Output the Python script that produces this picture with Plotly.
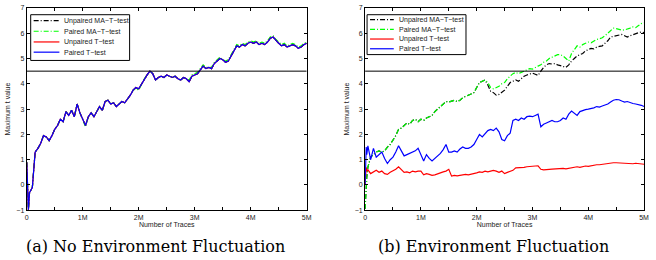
import plotly.graph_objects as go

# ---------------- data ----------------
# Number of traces (millions)
traces_m = [0, 0.01, 0.02, 0.03] + [round(0.05 * i, 2) for i in range(1, 101)]

# (a) No environment fluctuation: all four curves nearly coincide
a_main = [0.9, 0.3, -0.6, -0.98,
          -0.3, -0.1, 1.3, 1.45, 1.65, 1.95, 1.9, 1.75, 1.95, 2.2,
          2.35, 2.6, 2.5, 2.9, 2.75, 2.95, 2.7, 3.2, 2.85, 2.6,
          2.35, 2.7, 2.85, 2.7, 2.9, 3.1, 2.95, 3.3, 3.35, 3.2,
          3.25, 3.1, 3.2, 3.3, 3.25, 3.4, 3.55, 3.75, 3.85, 3.8,
          4.0, 4.2, 4.35, 4.5, 4.4, 4.15, 4.25, 4.3, 4.25, 4.35,
          4.3, 4.25, 4.3, 4.2, 4.15, 4.25, 4.2, 4.08, 4.3, 4.35,
          4.4, 4.55, 4.7, 4.6, 4.65, 4.6, 4.8, 4.9, 5.0, 4.95,
          4.85, 4.9, 5.1, 5.35, 5.5, 5.45, 5.55, 5.5, 5.6, 5.65,
          5.6, 5.65, 5.55, 5.6, 5.55, 5.65, 5.8, 5.85, 5.7, 5.6,
          5.5, 5.55, 5.45, 5.5, 5.55, 5.5, 5.4, 5.45, 5.55, 5.6]
a_paired_ma = [0.9, 0.3, -0.6, -0.98,
               -0.3, -0.1, 1.3, 1.45, 1.65, 1.95, 1.9, 1.75, 1.95, 2.2,
               2.35, 2.6, 2.5, 2.9, 2.75, 2.95, 2.7, 3.2, 2.85, 2.6,
               2.3, 2.7, 2.85, 2.7, 2.9, 3.1, 2.95, 3.3, 3.35, 3.2,
               3.25, 3.1, 3.2, 3.3, 3.25, 3.4, 3.55, 3.75, 3.8, 3.75,
               4.0, 4.2, 4.35, 4.5, 4.4, 4.15, 4.25, 4.3, 4.25, 4.35,
               4.3, 4.25, 4.3, 4.2, 4.15, 4.25, 4.2, 4.15, 4.35, 4.4,
               4.45, 4.6, 4.75, 4.65, 4.65, 4.65, 4.85, 4.95, 5.05, 4.95,
               4.9, 4.95, 5.15, 5.4, 5.55, 5.5, 5.6, 5.55, 5.65, 5.7,
               5.65, 5.7, 5.6, 5.65, 5.6, 5.7, 5.85, 5.9, 5.75, 5.65,
               5.55, 5.6, 5.5, 5.55, 5.6, 5.55, 5.45, 5.5, 5.6, 5.65]

# (b) Environment fluctuation
b_unpaired_ma = [-0.95, -0.5, 0.0, 0.3,
                 0.7, 1.1, 1.2, 1.3, 1.35, 1.3, 1.35, 1.5, 1.6, 1.75,
                 1.95, 2.2, 2.25, 2.35, 2.45, 2.4, 2.55, 2.6, 2.5, 2.6,
                 2.55, 2.65, 2.7, 2.75, 2.9, 3.0, 3.1, 3.2, 3.3, 3.28,
                 3.3, 3.35, 3.3, 3.35, 3.45, 3.5, 3.55, 3.6, 3.65, 3.85,
                 4.05, 4.1, 4.15, 3.95, 3.7, 3.65, 3.55, 3.58, 3.65, 3.75,
                 3.9, 4.05, 4.1, 4.15, 4.1, 4.2, 4.3, 4.35, 4.4, 4.42,
                 4.38, 4.33, 4.5, 4.65, 4.75, 4.8, 4.78, 4.8, 4.75, 4.72,
                 4.7, 4.65, 4.75, 4.9, 5.0, 5.1, 5.15, 5.2, 5.3, 5.35,
                 5.4, 5.38, 5.45, 5.48, 5.5, 5.6, 5.7, 5.85, 5.88, 5.9,
                 5.92, 5.95, 5.9, 5.85, 5.9, 5.95, 5.98, 6.02, 6.05, 6.02]
b_paired_ma = [-0.95, -0.5, 0.0, 0.3,
               0.7, 1.1, 1.2, 1.3, 1.35, 1.3, 1.35, 1.5, 1.6, 1.75,
               1.95, 2.2, 2.25, 2.35, 2.45, 2.4, 2.55, 2.6, 2.5, 2.6,
               2.55, 2.65, 2.7, 2.75, 2.9, 3.0, 3.1, 3.2, 3.3, 3.28,
               3.3, 3.35, 3.3, 3.35, 3.45, 3.5, 3.55, 3.6, 3.65, 3.85,
               4.05, 4.1, 4.15, 4.05, 3.85, 3.8, 3.85, 3.9, 4.0, 4.05,
               4.2, 4.3, 4.4, 4.45, 4.4, 4.45, 4.5, 4.55, 4.6, 4.58,
               4.65, 4.7, 4.75, 4.85, 4.9, 5.0, 5.05, 5.1, 5.15, 5.15,
               5.1, 5.0, 4.9, 5.2, 5.35, 5.5, 5.45, 5.55, 5.6, 5.65,
               5.62, 5.7, 5.75, 5.78, 5.82, 5.9, 6.0, 6.1, 6.2, 6.18,
               6.15, 6.12, 6.13, 6.15, 6.2, 6.25, 6.22, 6.3, 6.38, 6.4]
b_unpaired_t = [0.0, 0.5, 0.7, 0.55,
                0.6, 0.45, 0.5, 0.58, 0.5, 0.55, 0.45, 0.42, 0.5, 0.55,
                0.62, 0.72, 0.6, 0.5, 0.52, 0.48, 0.55, 0.52, 0.55, 0.55,
                0.4, 0.45, 0.42, 0.38, 0.4, 0.45, 0.48, 0.52, 0.55, 0.62,
                0.35, 0.38, 0.36, 0.38, 0.4, 0.42, 0.4, 0.42, 0.45, 0.48,
                0.52, 0.5, 0.55, 0.52, 0.55, 0.58, 0.55, 0.5, 0.55, 0.45,
                0.5, 0.55, 0.58, 0.68, 0.68, 0.7, 0.7, 0.72, 0.72, 0.73,
                0.75, 0.76, 0.62, 0.6, 0.62, 0.62, 0.63, 0.64, 0.65, 0.65,
                0.66, 0.64, 0.66, 0.68, 0.7, 0.72, 0.7, 0.73, 0.75, 0.74,
                0.77, 0.78, 0.8, 0.8, 0.82, 0.83, 0.85, 0.86, 0.88, 0.88,
                0.87, 0.86, 0.86, 0.85, 0.85, 0.84, 0.86, 0.85, 0.83, 0.82]
b_paired_t = [0.0, 1.0, 1.5, 1.2,
              1.55, 1.0, 1.45, 1.1, 1.2, 1.3, 1.05, 0.85, 1.0, 1.1,
              1.3, 1.55, 1.35, 1.15, 1.2, 1.25, 1.3, 1.35, 1.45, 1.2,
              0.95, 1.2, 1.05, 0.95, 1.05, 1.15, 1.25, 1.4, 1.6, 1.3,
              1.3, 1.35, 1.3, 1.42, 1.5, 1.45, 1.45, 1.5, 1.6, 1.8,
              2.0, 1.9, 2.05, 2.15, 2.2, 2.15, 2.25, 2.1, 1.8, 1.75,
              1.95, 2.05, 2.55, 2.6, 2.55, 2.65, 2.6, 2.7, 2.72, 2.7,
              2.75, 2.8, 2.3, 2.4, 2.45, 2.5, 2.55, 2.5, 2.5, 2.55,
              2.65, 2.6, 2.8, 2.92, 2.85, 2.75, 2.9, 2.95, 2.98, 3.0,
              3.02, 3.05, 3.1, 3.08, 3.12, 3.15, 3.2, 3.28, 3.35, 3.38,
              3.37, 3.32, 3.28, 3.3, 3.25, 3.22, 3.2, 3.18, 3.15, 3.1]

threshold = 4.5
series_names = ["Unpaired MA\u2212T\u2212test", "Paired MA\u2212T\u2212test",
                "Unpaired T\u2212test", "Paired T\u2212test"]
x_tickvals = [0, 0.5, 1, 1.5, 2, 2.5, 3, 3.5, 4, 4.5, 5]
x_ticktext = ["0", "", "1M", "", "2M", "", "3M", "", "4M", "", "5M"]
y_tickvals = [-1, 0, 1, 2, 3, 4, 5, 6, 7]
captions = ["(a) No Environment Fluctuation", "(b) Environment Fluctuation"]

# ---------------- styling ----------------
W, H = 656, 260
colors = ["#000000", "#00ff00", "#ff0000", "#0000ff"]
dashes = ["5px,2px,1px,2px", "5px,2px,1px,2px", "solid", "solid"]
sans = "Liberation Sans, Arial, sans-serif"

panel_a = [a_main, a_paired_ma, a_main, a_main]
panel_b = [b_unpaired_ma, b_paired_ma, b_unpaired_t, b_paired_t]

fig = go.Figure()
for ax, data in (("", panel_a), ("2", panel_b)):
    for name, ys, c, d in zip(series_names, data, colors, dashes):
        fig.add_trace(go.Scatter(x=traces_m, y=ys, mode="lines", name=name,
                                 line=dict(color=c, width=1.2, dash=d),
                                 xaxis="x" + ax, yaxis="y" + ax,
                                 showlegend=False))
    fig.add_trace(go.Scatter(x=[0, 5], y=[threshold, threshold], mode="lines",
                             line=dict(color="black", width=1),
                             xaxis="x" + ax, yaxis="y" + ax, showlegend=False))

def px(v):
    return v / W

def py(v):
    return 1 - v / H

ydom = [py(212), py(4)]
axis_common = dict(showline=True, mirror="ticks", linecolor="black", linewidth=1,
                   ticks="inside", ticklen=3, tickcolor="black", showgrid=False,
                   zeroline=False, tickfont=dict(family=sans, size=7, color="#222"))
fig.update_layout(
    width=W, height=H, margin=dict(l=0, r=0, t=0, b=0),
    paper_bgcolor="white", plot_bgcolor="white",
    xaxis=dict(domain=[px(25), px(308)], range=[0, 5], tickvals=x_tickvals,
               ticktext=x_ticktext, anchor="y",
               title=dict(text="Number of Traces", standoff=2,
                          font=dict(family=sans, size=7, color="#222")), **axis_common),
    yaxis=dict(domain=ydom, range=[-1, 7], tickvals=y_tickvals, anchor="x",
               title=dict(text="Maximum t value", standoff=4,
                          font=dict(family=sans, size=7, color="#222")), **axis_common),
    xaxis2=dict(domain=[px(367), px(649)], range=[0, 5], tickvals=x_tickvals,
                ticktext=x_ticktext, anchor="y2",
                title=dict(text="Number of Traces", standoff=2,
                           font=dict(family=sans, size=7, color="#222")), **axis_common),
    yaxis2=dict(domain=ydom, range=[-1, 7], tickvals=y_tickvals, anchor="x2",
                title=dict(text="Maximum t value", standoff=4,
                           font=dict(family=sans, size=7, color="#222")), **axis_common),
)

# hand-built compact legends (MATLAB style)
legend_specs = [
    dict(box=(29, 11, 129, 58), rows=[17, 28, 39, 49.5], sx=(32, 58), tx=61),
    dict(box=(369, 11, 469, 52), rows=[16, 26, 36, 46], sx=(372, 396), tx=399),
]
for spec in legend_specs:
    x0, y0, x1, y1 = spec["box"]
    fig.add_shape(type="rect", xref="paper", yref="paper",
                  x0=px(x0), x1=px(x1), y0=py(y1), y1=py(y0),
                  line=dict(color="black", width=1), fillcolor="white", layer="above")
    for name, c, d, ry in zip(series_names, colors, dashes, spec["rows"]):
        fig.add_shape(type="line", xref="paper", yref="paper",
                      x0=px(spec["sx"][0]), x1=px(spec["sx"][1]), y0=py(ry), y1=py(ry),
                      line=dict(color=c, width=1.2, dash=d), layer="above")
        fig.add_annotation(xref="paper", yref="paper", x=px(spec["tx"]), y=py(ry),
                           text=name, showarrow=False, xanchor="left", yanchor="middle",
                           font=dict(family=sans, size=7, color="#222"))

for cap, cx in zip(captions, [155, 497]):
    fig.add_annotation(xref="paper", yref="paper", x=px(cx), y=py(249), text=cap,
                       showarrow=False, xanchor="center", yanchor="middle",
                       font=dict(family="DejaVu Serif, serif", size=16, color="black"))

fig.write_html("out.html")
